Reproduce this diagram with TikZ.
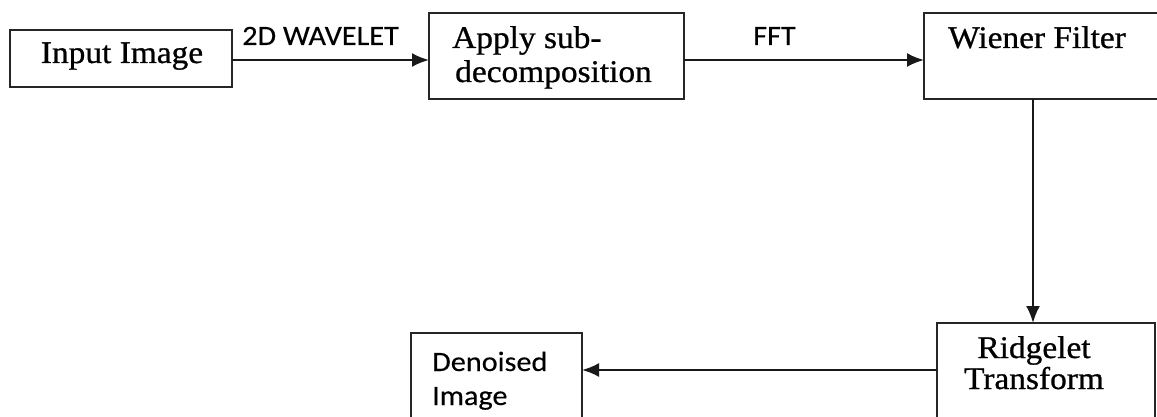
\documentclass[tikz,border=0pt]{standalone}
\usepackage{fontspec}
\usetikzlibrary{arrows.meta}
\newfontfamily\boxserif[FakeStretch=1.06,FakeBold=0.8]{Liberation Serif}
\newfontfamily\boxsans[FakeStretch=1.08,FakeBold=0.3]{Carlito}
\tikzset{
  blk/.style={draw=black!85, line width=2.2pt, rectangle, inner sep=0pt, outer sep=0pt},
  arr/.style={draw=black!90, line width=2.2pt, -{Latex[length=17pt,width=14pt]}},
  stxt/.style={font=\boxserif\fontsize{31.5}{34}\selectfont, inner sep=0pt, align=left},
  ctxt/.style={font=\boxserif\fontsize{31.5}{31}\selectfont, inner sep=0pt, align=center},
  ltxt/.style={font=\boxsans\fontsize{28}{34}\selectfont, inner sep=0pt, align=left}
}
\begin{document}
\begin{tikzpicture}[x=1pt,y=1pt]
\useasboundingbox (0,0) rectangle (1157,-417);
\node[blk, minimum width=222pt, minimum height=57pt] (in) at (121,-58.5) {};
\node[blk, minimum width=255pt, minimum height=86pt] (ap) at (556.5,-56) {};
\node[blk, minimum width=236pt, minimum height=86pt] (wf) at (1042,-56) {};
\node[blk, minimum width=218pt, minimum height=102pt] (rt) at (1046,-374) {};
\node[blk, minimum width=171pt, minimum height=92pt] (dn) at (496.5,-379) {};

\node[stxt, anchor=base] (tin) at (122,-63) {Input Image};
\node[stxt, anchor=base west] (tap1) at (452,-48) {Apply sub-};
\node[stxt, anchor=base west] (tap2) at (455,-82) {decomposition};
\node[stxt, anchor=base west] (twf) at (948,-48) {Wiener Filter};
\node[ctxt, anchor=base] (trt1) at (1034,-358) {Ridgelet};
\node[ctxt, anchor=base] (trt2) at (1034,-389) {Transform};
\node[ltxt, anchor=base west] (tdn1) at (432,-371) {Denoised};
\node[ltxt, anchor=base west] (tdn2) at (432,-405) {Image};

\node[ltxt, anchor=base west] (l1) at (242,-45) {2D WAVELET};
\node[ltxt, anchor=base west] (l2) at (753,-45) {FFT};

\coordinate (y1) at (0,-60);
\draw[arr] (in.east |- y1) -- (ap.west |- y1);
\draw[arr] (ap.east |- y1) -- (wf.west |- y1);
\coordinate (x1) at (1033,0);
\draw[arr] (wf.south -| x1) -- (rt.north -| x1);
\coordinate (y2) at (0,-370);
\draw[arr] (rt.west |- y2) -- (dn.east |- y2);
\end{tikzpicture}
\end{document}
